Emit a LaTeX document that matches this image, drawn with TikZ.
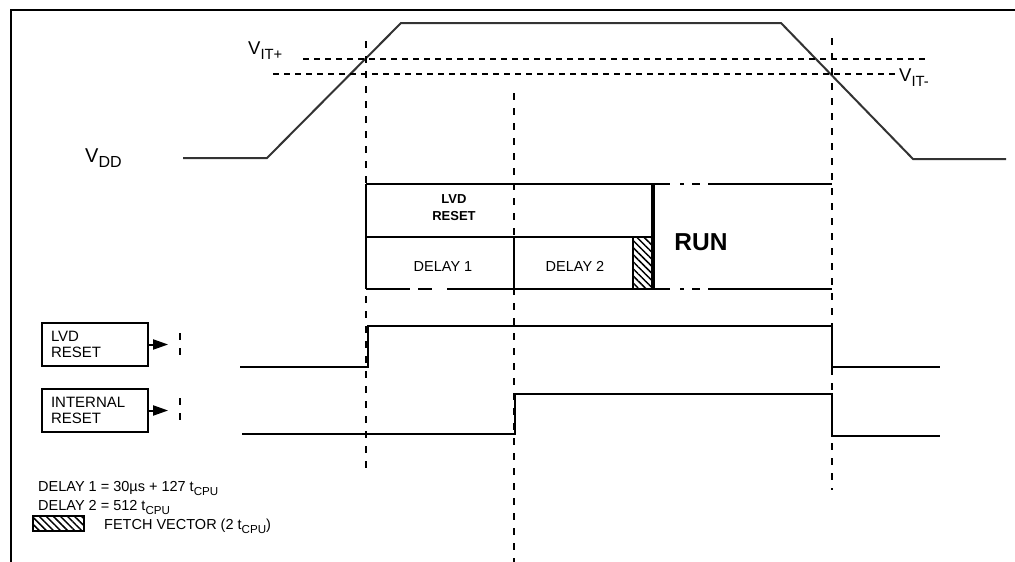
\documentclass[tikz,border=0pt]{standalone}
\usepackage{fontspec}
\setmainfont{Liberation Sans}
\usepackage{graphicx}
\usetikzlibrary{arrows.meta,patterns.meta,positioning}
\newcommand{\wavecolor}{black}
\newcommand{\wavewidth}{2.4pt}
\newcommand{\guidewidth}{2pt}
\newcommand{\subtxt}[1]{\raisebox{-0.28em}{\scalebox{0.8}{#1}}}

\tikzset{
    guide/.style={line width=\guidewidth, dash pattern=on 7pt off 8pt},
    level/.style={line width=1.7pt, dash pattern=on 6pt off 5pt},
    wave/.style={\wavecolor, line width=\wavewidth},
    boxline/.style={line width=2.2pt},
    hatch/.style={draw, line width=2pt, pattern={Lines[angle=-45,distance=5pt,line width=1.5pt]}},
    txt/.style={inner sep=0pt, font=\fontsize{14.5}{16}\selectfont},
    boldtxt/.style={inner sep=0pt, anchor=base, font=\fontsize{13}{15}\selectfont\bfseries},
    sigbox/.style={draw, line width=2.2pt, minimum width=106pt, minimum height=43pt, inner sep=0pt,
        align=left, text width=88pt, font=\fontsize{15}{16}\selectfont},
    sigarrow/.style={-{Triangle[length=15pt,width=10pt]}, line width=2pt},
}

\begin{document}
\begin{tikzpicture}[x=1pt, y=-1pt]
    \useasboundingbox (0,0) rectangle (1015,562);

    %Frame
    \draw[line width=2.8pt] (1015,10) -- (11,10) -- (11,562);

    %Supply
    \draw[wave, black!80, line width=2pt] (183,158) -- (267,158) -- (401,23) -- (781,23) -- (913,159) -- (1006,159);
    \draw[level] (303,59) -- (928,59);
    \draw[level] (273,74) -- (898,74);
    \node[txt, anchor=base west, font=\fontsize{20}{22}\selectfont] (vdd) at (85,162) {V\subtxt{DD}};
    \node[txt, anchor=base west, font=\fontsize{18.5}{20}\selectfont] (vitp) at (248,54) {V\subtxt{IT+}};
    \node[txt, anchor=base west, font=\fontsize{18.5}{20}\selectfont] (vitm) at (899,81) {V\subtxt{IT-}};

    %Guides
    \foreach \xg/\ya/\yb in {366/41/475, 514/93/562, 832/38/490} {
        \draw[guide] (\xg,\ya) -- (\xg,\yb);
    }

    %Sequence box
    \foreach \xa/\xb in {366/670, 680/684, 692/700, 708/832} {
        \draw[boxline] (\xa,184) -- (\xb,184);
    }
    \foreach \xa/\xb in {366/410, 418/432, 447/670, 680/684, 692/700, 708/832} {
        \draw[boxline] (\xa,289) -- (\xb,289);
    }
    \draw[boxline] (366,184) -- (366,289);
    \draw[boxline] (366,237) -- (653,237);
    \draw[boxline] (514,237) -- (514,289);
    \draw[hatch] (633,237) rectangle (653,289);
    \draw[line width=3.2pt] (653,184) -- (653,289);

    \node[boldtxt] (lvd) at (454,203) {LVD};
    \node[boldtxt] (lvdrst) at (454,220) {RESET};
    \node[txt, anchor=base] (delay1) at (443,271) {DELAY 1};
    \node[txt, anchor=base] (delay2) at (575,271) {DELAY 2};
    \node[boldtxt, font=\fontsize{24.5}{28}\selectfont\bfseries] (run) at (701,250) {RUN};

    %Signals
    \draw[wave] (240,367) -- (368,367) -- (368,326) -- (832,326) -- (832,367) -- (940,367);
    \draw[wave] (242,434) -- (515,434) -- (515,394) -- (832,394) -- (832,436) -- (940,436);

    \node[sigbox] (lvdbox) at (95,344.5) {LVD\\RESET};
    \node[sigbox] (intbox) at (95,410.5) {INTERNAL\\RESET};
    \coordinate[right=19pt of lvdbox] (lvdtip);
    \coordinate[right=19pt of intbox] (inttip);
    \draw[sigarrow] (lvdbox) -- (lvdtip);
    \draw[sigarrow] (intbox) -- (inttip);
    \draw[guide] (180,333) -- (180,362);
    \draw[guide] (180,398) -- (180,427);

    %Legend
    \node[txt, anchor=base west] (leg1) at (38,491) {DELAY 1 = 30µs + 127 t\subtxt{CPU}};
    \node[txt, anchor=base west] (leg2) at (38,510) {DELAY 2 = 512 t\subtxt{CPU}};
    \node[hatch, minimum width=51pt, minimum height=15pt, inner sep=0pt] (fetch) at (58.5,523) {};
    \node[txt, anchor=base west] (leg3) at (104,529) {FETCH VECTOR (2 t\subtxt{CPU})};
\end{tikzpicture}
\end{document}
